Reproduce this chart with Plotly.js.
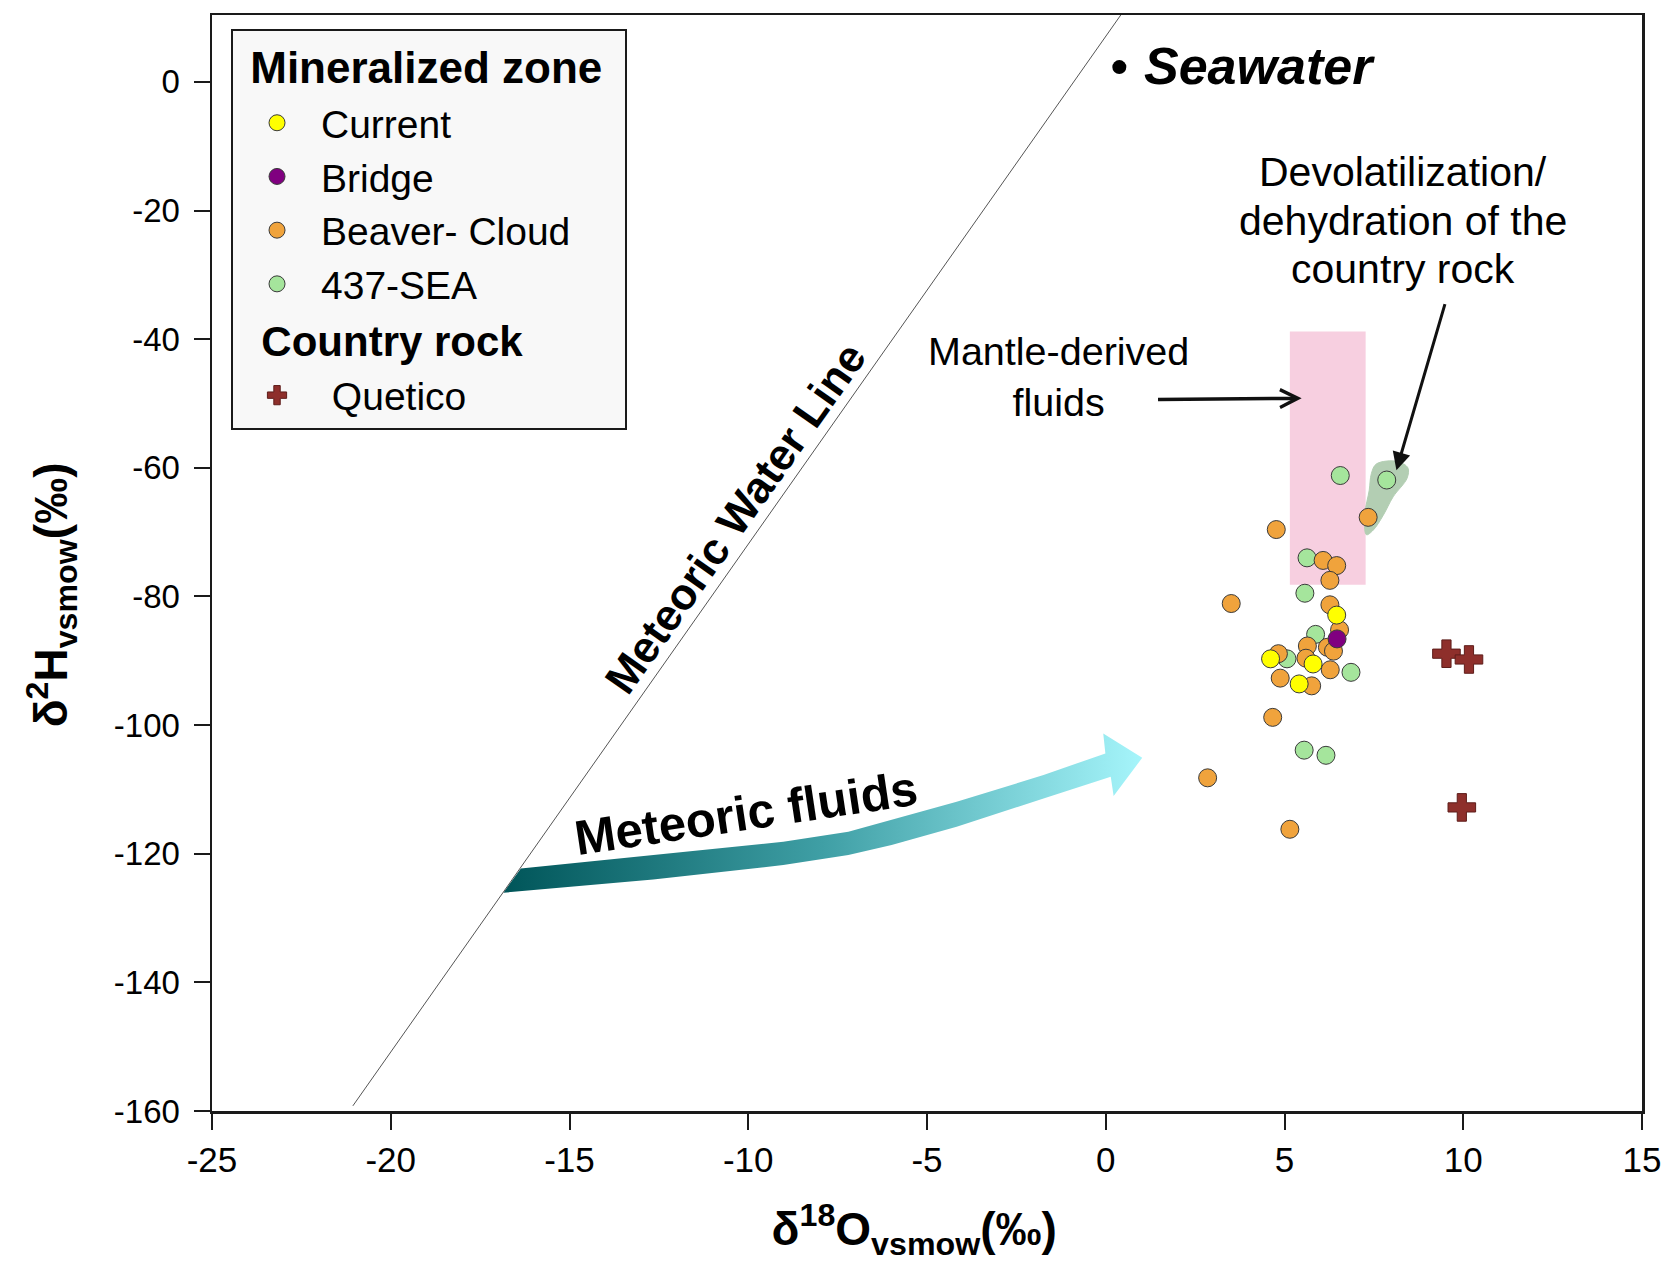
<!DOCTYPE html>
<html>
<head>
<meta charset="utf-8">
<script src="https://cdn.plot.ly/plotly-3.0.1.min.js"></script>
<style>html,body{margin:0;padding:0;background:#fff;}#chart{width:1664px;height:1264px;}</style>
</head>
<body>
<div id="chart"></div>
<script>
// ---- data ----
const currentX = [6.46, 4.61, 5.80, 5.41];
const currentY = [-82.9, -89.7, -90.5, -93.6];
const bridgeX = [6.47];
const bridgeY = [-86.6];
const beaverX = [7.34, 4.77, 6.08, 6.46, 6.27, 3.51, 6.27, 6.54, 5.64, 6.20, 6.37, 4.83, 5.60, 6.28, 4.88, 5.76, 4.67, 2.85, 5.15];
const beaverY = [-67.7, -69.6, -74.4, -75.2, -77.5, -81.1, -81.3, -85.2, -87.7, -87.9, -88.5, -88.9, -89.6, -91.4, -92.7, -93.9, -98.8, -108.2, -116.2];
const seaX = [6.56, 7.86, 5.63, 5.57, 5.87, 5.07, 6.86, 5.55, 6.16];
const seaY = [-61.2, -61.9, -74.0, -79.5, -85.9, -89.7, -91.8, -103.9, -104.7];
const queticoX = [9.53, 10.16, 9.96];
const queticoY = [-88.9, -89.8, -112.8];
const seawaterX = [0.38];
const seawaterY = [2.3];
// meteoric water line end points
const mwlX = [-21.06, 0.42];
const mwlY = [-159.2, 10.4];
// outline of the "Meteoric fluids" arrow
const arrowX = [-16.36, -12.66, -9.02, -7.20, -5.99, -4.17, -1.74, -0.01, -0.07, 1.02, 0.22, 0.14, -1.74, -4.17, -5.99, -7.20, -9.02, -12.66, -16.85, -16.36];
const arrowY = [-122.28, -120.21, -118.14, -116.59, -114.77, -111.92, -107.77, -104.40, -101.29, -105.08, -111.04, -108.04, -111.40, -115.81, -118.65, -120.21, -121.76, -123.99, -126.07, -122.28];
// outline of the devolatilization field
const blobX = [7.57, 8.15, 8.45, 8.43, 8.04, 7.76, 7.48, 7.29, 7.25, 7.37, 7.43, 7.57];
const blobY = [-59.4, -59.0, -60.0, -61.6, -64.5, -67.4, -69.7, -70.4, -67.1, -63.5, -60.9, -59.4];
// mantle-derived fluids box
const mantleX = [5.15, 7.27];
const mantleY = [-78.2, -38.8];
// ticks
const xTickVals = [-25, -20, -15, -10, -5, 0, 5, 10, 15];
const xTickText = ['-25', '-20', '-15', '-10', '-5', '0', '5', '10', '15'];
const yTickVals = [-160, -140, -120, -100, -80, -60, -40, -20, 0];
const yTickText = ['-160', '-140', '-120', '-100', '-80', '-60', '-40', '-20', '0'];
// annotation texts
const devolLines = ['Devolatilization/', 'dehydration of the', 'country rock'];
const devolLineY = [-14.04, -21.61, -29.04];

const FONT = 'Liberation Sans, Arial, sans-serif';
const NB = '\u00a0';
const circ = (c) => ({symbol: 'circle', size: 18, color: c, line: {color: '#3a3a3a', width: 1}});

const traces = [
  {x: arrowX, y: arrowY, type: 'scatter', mode: 'lines', fill: 'toself',
   line: {width: 0, color: 'rgba(0,0,0,0)'},
   fillgradient: {type: 'horizontal', colorscale: [[0, '#005559'], [0.5, '#3f9fa5'], [1, '#a6f5fb']]},
   showlegend: false, hoverinfo: 'skip'},
  {x: mwlX, y: mwlY, type: 'scatter', mode: 'lines', line: {color: '#555', width: 1},
   showlegend: false, hoverinfo: 'skip'},
  {x: blobX, y: blobY, type: 'scatter', mode: 'lines', fill: 'toself', fillcolor: '#b3ceb3',
   line: {color: '#b3ceb3', width: 1, shape: 'spline'}, showlegend: false, hoverinfo: 'skip'},
  {x: seawaterX, y: seawaterY, type: 'scatter', mode: 'markers',
   marker: {symbol: 'circle', size: 14, color: '#000'}, showlegend: false, hoverinfo: 'skip'},
  {x: seaX, y: seaY, name: '437-SEA', type: 'scatter', mode: 'markers', marker: circ('#a5e59c'),
   legendgroup: 'min', legendrank: 4,
   legendgrouptitle: {text: '<b>' + NB + 'Mineralized zone' + NB + '</b>', font: {size: 44, family: FONT, color: '#000'}}},
  {x: beaverX, y: beaverY, name: 'Beaver- Cloud', type: 'scatter', mode: 'markers', marker: circ('#f0a33c'),
   legendgroup: 'min', legendrank: 3},
  {x: currentX, y: currentY, name: 'Current', type: 'scatter', mode: 'markers', marker: circ('#ffff00'),
   legendgroup: 'min', legendrank: 1},
  {x: bridgeX, y: bridgeY, name: 'Bridge', type: 'scatter', mode: 'markers', marker: circ('#800080'),
   legendgroup: 'min', legendrank: 2},
  {x: queticoX, y: queticoY, name: NB + 'Quetico', type: 'scatter', mode: 'markers',
   marker: {symbol: 'cross', size: 23, color: '#8e2f2b', line: {color: '#5e1d1a', width: 1}},
   legendgroup: 'country', legendrank: 5,
   legendgrouptitle: {text: '<b>' + NB + NB + 'Country rock</b>', font: {size: 42, family: FONT, color: '#000'}}}
];

const annotations = [
  {xref: 'x', yref: 'y', x: -10.38, y: -67.87, text: '<b>Meteoric Water Line</b>', showarrow: false,
   textangle: -54.8, font: {size: 44, family: FONT, color: '#000'}},
  {xref: 'x', yref: 'y', x: -10.07, y: -113.6, text: '<b>Meteoric fluids</b>', showarrow: false,
   textangle: -8.5, font: {size: 49, family: FONT, color: '#000'}},
  {xref: 'x', yref: 'y', x: 1.0, y: 2.44, xanchor: 'left', yanchor: 'middle', text: '<b><i>Seawater</i></b>',
   showarrow: false, font: {size: 52, family: FONT, color: '#000'}},
  {xref: 'x', yref: 'y', x: -1.33, y: -45.86, text: 'Mantle-derived<br>fluids',
   showarrow: false, align: 'center', font: {size: 39.5, family: FONT, color: '#000'}},
  {xref: 'x', yref: 'y', axref: 'x', ayref: 'y', x: 5.48, y: -49.2, ax: 1.42, ay: -49.4, text: '',
   showarrow: true, arrowhead: 5, arrowsize: 1, arrowwidth: 3.5, arrowcolor: '#111'},
  {xref: 'x', yref: 'y', axref: 'x', ayref: 'y', x: 8.13, y: -60.38, ax: 9.50, ay: -34.31, text: '',
   showarrow: true, arrowhead: 2, arrowsize: 1.2, arrowwidth: 3, arrowcolor: '#111'}
];
devolLines.forEach((t, i) => annotations.push({
  xref: 'x', yref: 'y', x: 8.31, y: devolLineY[i], text: t, showarrow: false,
  font: {size: 41, family: FONT, color: '#000'}
}));

const layout = {
  width: 1664, height: 1264,
  margin: {l: 212, r: 22, t: 15, b: 153},
  paper_bgcolor: '#ffffff', plot_bgcolor: '#ffffff',
  font: {family: FONT, color: '#000'},
  showlegend: true,
  legend: {
    x: 0.0133, y: 0.9875, xanchor: 'left', yanchor: 'top',
    bgcolor: '#f8f8f8', bordercolor: '#1a1a1a', borderwidth: 2,
    font: {size: 39, family: FONT, color: '#000'},
    tracegroupgap: 0, traceorder: 'grouped', itemsizing: 'trace', itemwidth: 78
  },
  xaxis: {
    range: [-25, 15], tickmode: 'array', tickvals: xTickVals, ticktext: xTickText,
    showline: true, linecolor: '#1a1a1a', linewidth: 2.5, mirror: true,
    ticks: 'outside', ticklen: 16, tickwidth: 2, tickcolor: '#1a1a1a',
    ticklabelstandoff: 0,
    showgrid: false, zeroline: false,
    tickfont: {size: 35, family: FONT, color: '#000'},
    title: {text: '<b>δ<sup>18</sup>O<sub>vsmow</sub>(‰)' + NB + NB + '</b>', font: {size: 46, family: FONT, color: '#000'}, standoff: 36}
  },
  yaxis: {
    range: [-160, 10.4], tickmode: 'array', tickvals: yTickVals, ticktext: yTickText,
    showline: true, linecolor: '#1a1a1a', linewidth: 2.5, mirror: true,
    ticks: 'outside', ticklen: 16, tickwidth: 2, tickcolor: '#1a1a1a',
    ticklabelstandoff: 7,
    showgrid: false, zeroline: false,
    tickfont: {size: 33, family: FONT, color: '#000'},
    title: {text: '<b>δ<sup>2</sup>H<sub>vsmow</sub>(‰)' + NB.repeat(5) + '</b>', font: {size: 46, family: FONT, color: '#000'}, standoff: 32}
  },
  shapes: [
    {type: 'rect', xref: 'x', yref: 'y', x0: mantleX[0], x1: mantleX[1], y0: mantleY[0], y1: mantleY[1],
     fillcolor: '#f7cfe0', line: {width: 0}, layer: 'below'}
  ],
  annotations: annotations
};

Plotly.newPlot('chart', traces, layout, {displayModeBar: false, staticPlot: true});
</script>
</body>
</html>
